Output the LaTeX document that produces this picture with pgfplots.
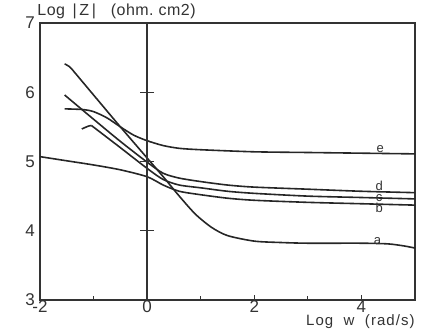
\documentclass[border=0pt]{standalone}
\usepackage{fontspec}
\setmainfont{Liberation Sans}
\newfontfamily\plotfont[LetterSpace=7]{Liberation Sans}
\newfontfamily\titlefont[LetterSpace=3]{Liberation Sans}
\usepackage{pgfplots}
\pgfplotsset{compat=1.18}
\pgfplotsset{curve/.style={black!85, solid, mark=none, line width=0.8pt, smooth, tension=0.45}}
\begin{document}
\begin{tikzpicture}
\begin{axis}[
  scale only axis,
  width=187.5pt, height=138.5pt,
  xmin=-2, xmax=5, ymin=3, ymax=7,
  axis line style={black!80, line width=0.7pt},
  xtick={-2,0,2,4},
  minor xtick={-1,1,3},
  ytick={3,4,5,6,7},
  x tick style={black!80, line width=0.5pt},
  xtick pos=bottom,
  major tick length=2.5pt, minor tick length=2pt,
  y tick style={draw=none},
  ytick pos=left,
  /pgf/number format/assume math mode=true,
  tick label style={font=\fontsize{8.5}{9}\selectfont, text=black!80},
  xticklabel style={yshift=3.2pt},
  yticklabel style={xshift=1pt},
  clip=false,
]
% curve e
\addplot[curve] coordinates {(-1.54,5.76) (-1.2,5.75) (-1.0,5.72) (-0.75,5.63) (-0.5,5.50) (-0.25,5.38) (0,5.30) (0.3,5.23) (0.6,5.19) (1,5.17) (2,5.14) (3,5.13) (4,5.12) (5,5.11)};
% curve d
\addplot[curve] coordinates {(-1.54,5.96) (-1.0,5.61) (-0.5,5.29) (0,4.99) (0.3,4.83) (0.6,4.76) (1,4.71) (1.5,4.66) (2,4.63) (3,4.60) (4,4.57) (5,4.55)};
% curve c
\addplot[curve, smooth=false] coordinates {(-1.22,5.47) (-1.1,5.51) (-1.04,5.52)};
\addplot[curve] coordinates {(-1.04,5.52) (-0.5,5.20) (0,4.90) (0.3,4.74) (0.6,4.66) (1,4.62) (1.5,4.57) (2,4.54) (3,4.50) (4,4.48) (5,4.46)};
% curve b
\addplot[curve] coordinates {(-2,5.07) (-1.5,5.01) (-1,4.95) (-0.5,4.88) (0,4.78) (0.3,4.66) (0.6,4.57) (1,4.52) (1.5,4.47) (2,4.44) (3,4.41) (4,4.39) (5,4.37)};
% curve a
\addplot[curve, smooth=false] coordinates {(-1.54,6.41) (-1.45,6.37) (-1.39,6.32)};
\addplot[curve] coordinates {(-1.39,6.32) (-1.0,5.96) (-0.5,5.50) (0,5.05) (0.3,4.78) (0.6,4.50) (0.9,4.24) (1.2,4.05) (1.5,3.93) (2.0,3.85) (2.5,3.83) (3,3.82) (4,3.82) (4.5,3.81) (4.8,3.78) (5,3.75)};
% vertical line at x = 0 with its ticks
\addplot[black!80, line width=0.7pt, mark=none] coordinates {(0,3) (0,7)};
\addplot[black!80, only marks, mark=-, mark size=3.5pt, mark options={line width=0.6pt}] coordinates {(0,4) (0,5) (0,6)};
% curve letters
\node[font=\fontsize{6.5}{6.5}\selectfont, text=black!80] at (axis cs:4.35,5.18) {e};
\node[font=\fontsize{6.5}{6.5}\selectfont, text=black!80] at (axis cs:4.33,4.655) {d};
\node[font=\fontsize{6.5}{6.5}\selectfont, text=black!80] at (axis cs:4.33,4.465) {c};
\node[font=\fontsize{6.5}{6.5}\selectfont, text=black!80] at (axis cs:4.33,4.33) {b};
\node[font=\fontsize{6.5}{6.5}\selectfont, text=black!80] at (axis cs:4.30,3.85) {a};
% titles
\node[anchor=south west, inner sep=0pt, font=\titlefont\fontsize{8}{8}\selectfont, text=black!80] at (rel axis cs:-0.008,1.012) {Log\ \,|\,Z\,|\ \ \ (ohm.\ cm2)};
\node[anchor=north east, inner sep=0pt, font=\plotfont\fontsize{7.5}{7.5}\selectfont, text=black!80] at (rel axis cs:1,-0.052) {Log\ \ w\ \ (rad/s)};
\end{axis}
\pgfresetboundingbox
\path[use as bounding box] (current axis.south west) ++(-20pt,-14.5pt) rectangle ([shift={(7.5pt,11.5pt)}]current axis.north east);
\end{tikzpicture}
\end{document}
